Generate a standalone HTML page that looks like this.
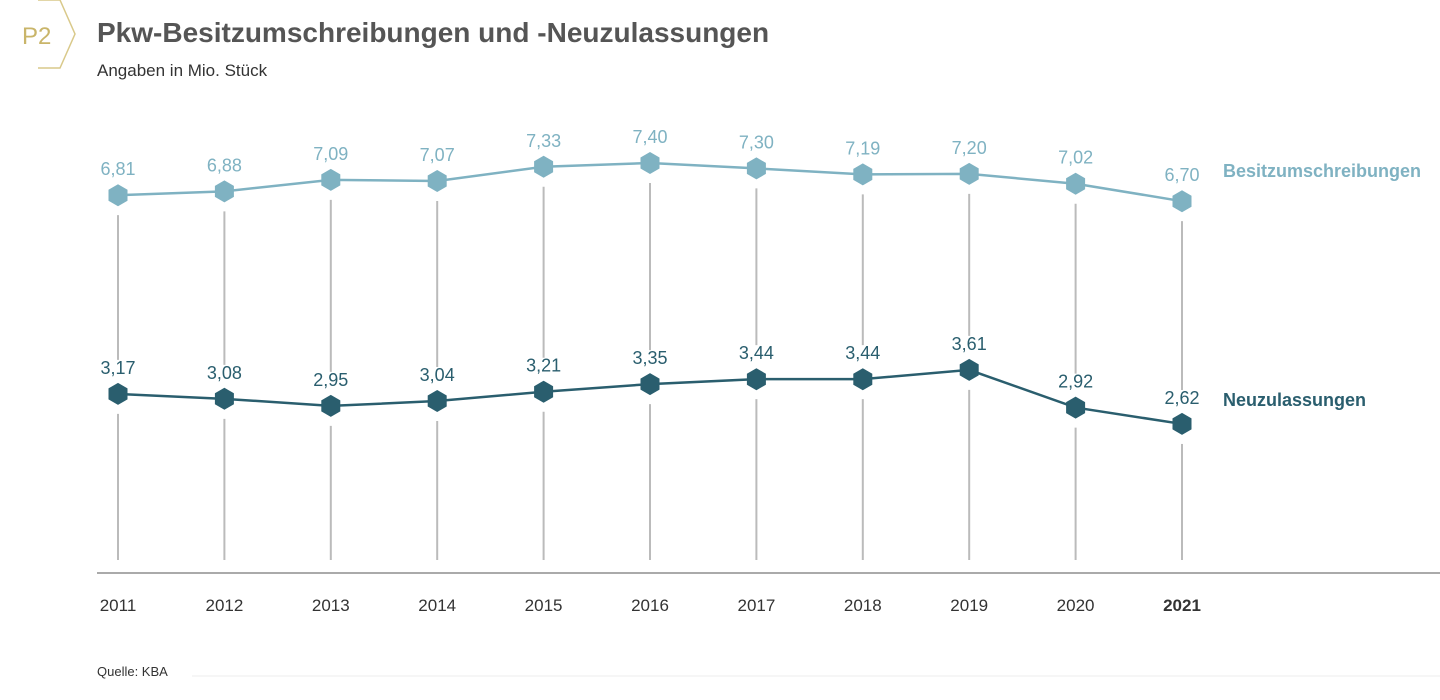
<!DOCTYPE html>
<html><head><meta charset="utf-8"><style>
body{margin:0;width:1440px;height:700px;background:#fff;font-family:"Liberation Sans",sans-serif;overflow:hidden}
svg{position:absolute;left:0;top:0}
</style></head><body>
<svg id="c" width="1440" height="700">
<g>
<polyline points="38,0 60,0 75,34 60,68 38,68" fill="none" stroke="#d9c98a" stroke-width="1.5"/>
<text x="22" y="44" font-size="24" fill="#c9b56a">P2</text>
<text x="97" y="42" font-size="28" font-weight="bold" fill="#555">Pkw-Besitzumschreibungen und -Neuzulassungen</text>
<text x="97" y="76" font-size="17" fill="#333">Angaben in Mio. Stück</text>
</g>
<line x1="97" y1="573" x2="1440" y2="573" stroke="#aaa" stroke-width="2"/>
<text x="97" y="676" font-size="13" fill="#333">Quelle: KBA</text>
<line x1="192" y1="676" x2="1440" y2="676" stroke="#eee"/>
<g id="grid"></g><g id="lines"></g><g id="marks"></g>
</svg>
<script>
const years=["2011","2012","2013","2014","2015","2016","2017","2018","2019","2020","2021"];
const besitz=[6.81,6.88,7.09,7.07,7.33,7.40,7.30,7.19,7.20,7.02,6.70];
const neu=[3.17,3.08,2.95,3.04,3.21,3.35,3.44,3.44,3.61,2.92,2.62];
const NS="http://www.w3.org/2000/svg";
const x=i=>118+i*106.4;
const y=v=>567-v*54.6;
function mk(t,a,p){const e=document.createElementNS(NS,t);for(const k in a)e.setAttribute(k,a[k]);document.getElementById(p).appendChild(e);return e;}
function hex(cx,cy,r){let p=[];for(let k=0;k<6;k++){const a=Math.PI/3*k+Math.PI/6;p.push((cx+r*Math.cos(a)).toFixed(1)+","+(cy+r*Math.sin(a)).toFixed(1));}return p.join(" ");}
years.forEach((yr,i)=>{
 const g1=mk("line",{x1:x(i),x2:x(i),y1:y(besitz[i])+20,y2:y(neu[i])-34,stroke:"#bbb","stroke-width":2},"grid");
 
 
 const g2=mk("line",{x1:x(i),x2:x(i),y1:y(neu[i])+20,y2:560,stroke:"#bbb","stroke-width":2},"grid");
 
 
 const t=mk("text",{x:x(i),y:611,"font-size":17,"text-anchor":"middle",fill:"#333","font-weight":i==years.length-1?"bold":"normal"},"marks");
 t.textContent=yr;
 
 
});
function series(vals,col,name,lbl){
 const pl=mk("polyline",{points:vals.map((v,i)=>x(i)+","+y(v)).join(" "),fill:"none",stroke:col,"stroke-width":2.5},"lines");
 
 
 vals.forEach((v,i)=>{
  const m=mk("polygon",{points:hex(x(i),y(v),11),fill:col},"marks");
  
  
  const t=mk("text",{x:x(i),y:y(v)-20,"font-size":18,"text-anchor":"middle",fill:col},"marks");
  t.textContent=v.toFixed(2).replace(".",",");
  
  
 });
 const l=mk("text",{x:1223,y:y(vals[vals.length-1])-22,"font-size":18,"font-weight":"bold",fill:col},"marks");
 l.textContent=lbl;
 
 
 return l;
}
const lb=series(besitz,"#7fb2c2","besitz","Besitzumschreibungen");
lb.setAttribute("y",177);
const ln=series(neu,"#2a5e6e","neu","Neuzulassungen");
ln.setAttribute("y",406);
</script>
</body></html>
